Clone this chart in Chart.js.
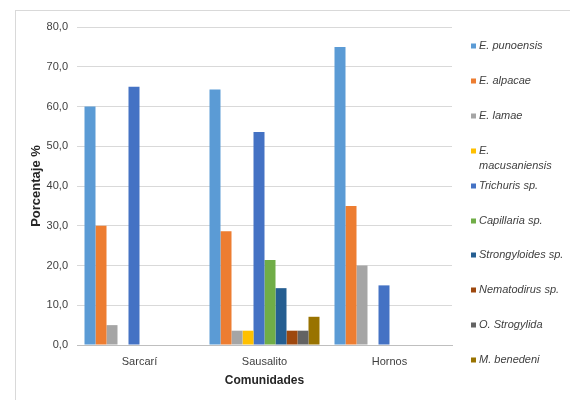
<!DOCTYPE html>
<html>
<head>
<meta charset="utf-8">
<script src="https://cdn.jsdelivr.net/npm/chart.js@4"></script>
<style>
  html, body { margin: 0; padding: 0; background: #ffffff; }
  #wrap { width: 570px; height: 400px; position: relative; }
</style>
</head>
<body>
<div id="wrap"><canvas id="c" width="570" height="400"></canvas></div>
<script>
// Communities sampled
const comunidades = ['Sarcarí', 'Sausalito', 'Hornos'];

// Parasite taxa (legend labels; arrays wrap onto two lines)
const especies = [
  'E. punoensis', 'E. alpacae', 'E. lamae', ['E.', 'macusaniensis'],
  'Trichuris sp.', 'Capillaria sp.', 'Strongyloides sp.', 'Nematodirus sp.',
  'O. Strogylida', 'M. benedeni'
];

// Prevalence (%) per community: Sarcarí, Sausalito, Hornos
const ePunoensis     = [60.0, 64.3, 75.0];
const eAlpacae       = [30.0, 28.6, 35.0];
const eLamae         = [5.0, 3.6, 20.0];
const eMacusaniensis = [0, 3.6, 0];
const trichuris      = [65.0, 53.6, 15.0];
const capillaria     = [0, 21.4, 0];
const strongyloides  = [0, 14.3, 0];
const nematodirus    = [0, 3.6, 0];
const oStrogylida    = [0, 3.6, 0];
const mBenedeni      = [0, 7.1, 0];

const valores = [ePunoensis, eAlpacae, eLamae, eMacusaniensis, trichuris,
                 capillaria, strongyloides, nematodirus, oStrogylida, mBenedeni];

const colores = ['#5B9BD5', '#ED7D31', '#A5A5A5', '#FFC000', '#4472C4',
                 '#70AD47', '#255E91', '#9E480E', '#636363', '#997300'];

const yTicks = [0, 10, 20, 30, 40, 50, 60, 70, 80];

const FONT = '"Liberation Sans", Arial, sans-serif';

// Light frame around the chart area
const framePlugin = {
  id: 'frame',
  beforeDraw(chart) {
    const ctx = chart.ctx;
    ctx.save();
    ctx.strokeStyle = '#d9d9d9';
    ctx.lineWidth = 1;
    ctx.strokeRect(15.5, 10.5, 600, 450);
    ctx.restore();
  }
};

// Vertical legend on the right with square markers and italic names
const sideLegend = {
  id: 'sideLegend',
  afterDraw(chart) {
    const ctx = chart.ctx;
    ctx.save();
    ctx.font = 'italic 11px ' + FONT;
    ctx.textBaseline = 'middle';
    ctx.textAlign = 'left';
    chart.data.datasets.forEach((ds, i) => {
      const y = 46 + 34.9 * i;
      ctx.fillStyle = ds.backgroundColor;
      ctx.fillRect(471, Math.round(y) - 2.5, 5, 5);
      ctx.fillStyle = '#404040';
      const lines = Array.isArray(ds.label) ? ds.label : [ds.label];
      lines.forEach((t, k) => ctx.fillText(t, 479, y + k * 15.5));
    });
    ctx.restore();
  }
};

new Chart(document.getElementById('c'), {
  type: 'bar',
  data: {
    labels: comunidades,
    datasets: especies.map((name, i) => ({
      label: name,
      data: valores[i],
      backgroundColor: colores[i],
      borderWidth: 0,
      barPercentage: 1.0,
      categoryPercentage: 0.88
    }))
  },
  options: {
    responsive: false,
    animation: false,
    devicePixelRatio: 1,
    layout: { padding: { left: 0, right: 118, top: 27, bottom: 0 } },
    plugins: {
      legend: { display: false },
      tooltip: { enabled: false }
    },
    scales: {
      x: {
        grid: { display: false, drawTicks: false },
        border: { display: true, color: '#bfbfbf', width: 1 },
        ticks: { color: '#404040', font: { family: FONT, size: 11 }, padding: 10 },
        title: {
          display: true, text: 'Comunidades', color: '#262626',
          font: { family: FONT, size: 12, weight: 'bold' },
          padding: { top: 0, bottom: 12 }
        },
        afterFit(scale) { scale.height = 55; }
      },
      y: {
        min: 0, max: 80,
        afterBuildTicks(scale) { scale.ticks = yTicks.map(v => ({ value: v })); },
        grid: { color: '#d9d9d9', drawTicks: false },
        border: { display: false },
        ticks: {
          color: '#404040', font: { family: FONT, size: 11 }, padding: 9,
          callback: v => v.toFixed(1).replace('.', ',')
        },
        title: {
          display: true, text: 'Porcentaje %', color: '#262626',
          font: { family: FONT, size: 13, weight: 'bold' },
          padding: { top: 29, bottom: 0 }
        },
        afterFit(scale) { scale.width = 77; }
      }
    }
  },
  plugins: [framePlugin, sideLegend]
});
</script>
</body>
</html>
